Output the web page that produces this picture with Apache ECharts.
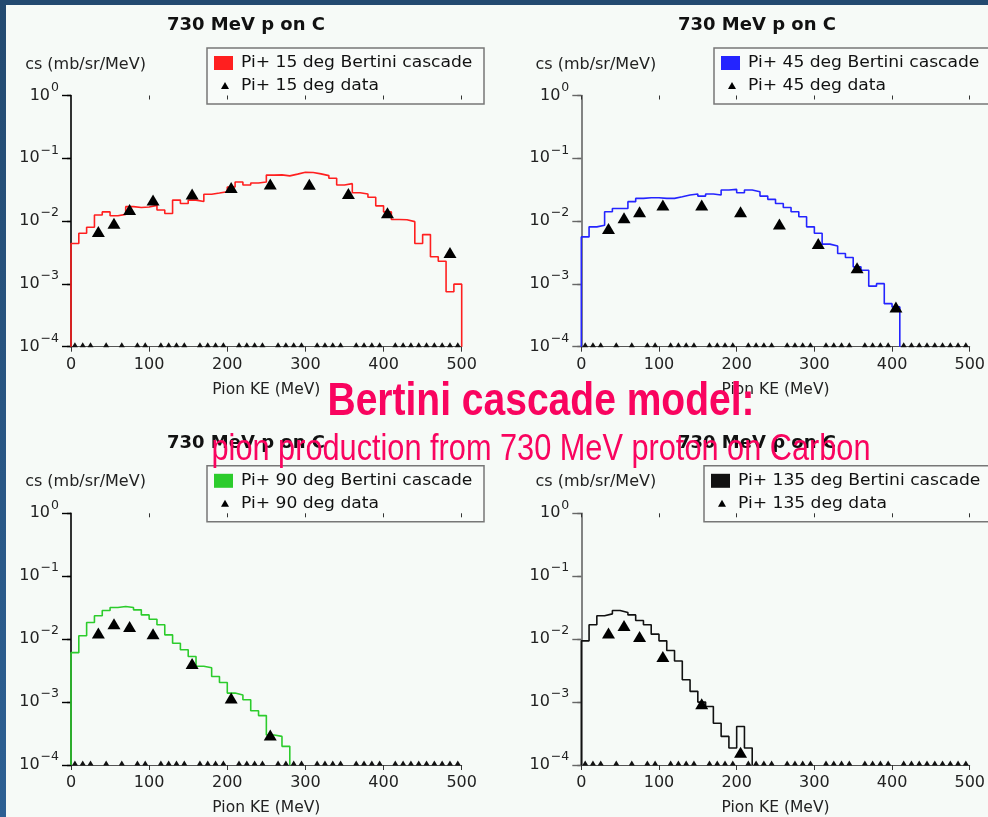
<!DOCTYPE html>
<html><head><meta charset="utf-8">
<script src="https://cdn.jsdelivr.net/npm/echarts@6/dist/echarts.min.js"></script>
<style>
html,body{margin:0;padding:0;background:#f6faf7;overflow:hidden;}
#c{position:absolute;left:0;top:0;width:988px;height:817px;}
#topbar{position:absolute;left:0;top:0;width:988px;height:5px;background:#234a70;}
#leftbar{position:absolute;left:0;top:0;width:6px;height:817px;background:linear-gradient(#234a70,#2d6094);}
</style></head><body>
<div id="c"></div><div id="topbar"></div><div id="leftbar"></div>
<script>
// ---------- data ----------
const BIN_WIDTH = 10;          // MeV per histogram bin
const Y_MIN = 1e-4, Y_MAX = 1;
const KE_MIN = 0, KE_MAX = 500, KE_STEP = 100;
const panelTitle = '730 MeV p on C';
const yAxisName = 'cs (mb/sr/MeV)';
const xAxisName = 'Pion KE (MeV)';
const angles = ['15', '45', '90', '135'];
const histColors = ['#ff1f1f', '#2424ff', '#2ccc2c', '#111111'];
const captionLines = ['Bertini cascade model:', 'pion production from 730 MeV proton on Carbon'];

// Bertini cascade histograms (10 MeV bins starting at 0)
const cascade15 = [0.0044,0.0064,0.0080,0.0125,0.0140,0.0122,0.0128,0.0170,0.0165,0.0168,
  0.0178,0.0150,0.0132,0.0216,0.0191,0.0216,0.0205,0.0268,0.0280,0.0294,
  0.0350,0.0420,0.0375,0.0405,0.0420,0.0540,0.0545,0.0525,0.0560,0.0600,
  0.0595,0.0565,0.0530,0.0480,0.0375,0.0395,0.0283,0.0270,0.0240,0.0175,
  0.0140,0.0106,0.0105,0.0098,0.0044,0.0061,0.0027,0.0023,0.00075,0.00099];
const cascade45 = [0.0056,0.0081,0.0086,0.0141,0.0159,0.0159,0.0204,0.0230,0.0236,0.0236,
  0.0230,0.0230,0.0244,0.0260,0.0270,0.0250,0.0270,0.0260,0.0313,0.0320,
  0.0283,0.0313,0.0294,0.0250,0.0222,0.0191,0.0165,0.0141,0.0117,0.0081,
  0.0064,0.0043,0.0040,0.00305,0.00263,0.00187,0.00165,0.00092,0.00101,0.000485,0.00043];
const cascade90 = [0.0061,0.0113,0.0184,0.0235,0.0285,0.0318,0.0330,0.0318,0.0292,0.0243,
  0.0207,0.0169,0.0117,0.0086,0.0068,0.0053,0.0037,0.0035,0.00255,0.00205,
  0.00139,0.0013,0.00109,0.00073,0.00061,0.0003,0.000285,0.000198];
const cascade135 = [0.0094,0.0169,0.0235,0.0252,0.0285,0.0265,0.0243,0.0198,0.0169,0.0120,
  0.0094,0.0066,0.0045,0.00226,0.00148,0.0010,0.00085,0.00046,0.000285,0.000186,0.00041,0.000186];

// measured data points
const data15KE = [35,55,75,105,155,205,255,305,355,405,485];
const data15 = [0.0068,0.0092,0.0153,0.0216,0.027,0.0344,0.0389,0.0385,0.0276,0.0136,0.00316];
const data45KE = [35,55,75,105,155,205,255,305,355,405];
const data45 = [0.0076,0.0113,0.0141,0.018,0.018,0.0141,0.009,0.0044,0.0018,0.00043];
const data90KE = [35,55,75,105,155,205,255];
const data90 = [0.0125,0.0175,0.0159,0.0122,0.0041,0.00116,0.0003];
const data135KE = [35,55,75,105,155,205];
const data135 = [0.0125,0.0165,0.011,0.0053,0.00094,0.00016];

// data bins with no measured value (drawn on the axis floor)
const emptyKE = [5,15,25,45,65,85,95,115,125,135,145,165,175,185,195,215,225,235,245,265,
  275,285,295,315,325,335,345,365,375,385,395,415,425,435,445,455,465,475,485,495];

const cascades = [cascade15, cascade45, cascade90, cascade135];
const dataKE = [data15KE, data45KE, data90KE, data135KE];
const dataVals = [data15, data45, data90, data135];

// ---------- layout ----------
const FONT = '"DejaVu Sans", sans-serif';
const CAPTION_FONT = '"Liberation Sans", Arial, sans-serif';
const panels = [
  {left: 71,    top: 95.5,  width: 390.7, height: 251.2, titleX: 246, legX: 207, legW: 277, axisColor: '#000'},
  {left: 581.3, top: 95.5,  width: 389.7, height: 251.2, titleX: 757, legX: 714, legW: 290, axisColor: '#666'},
  {left: 71,    top: 513.3, width: 390.7, height: 251.7, titleX: 246, legX: 207, legW: 277, axisColor: '#000'},
  {left: 581.3, top: 513.3, width: 389.7, height: 251.7, titleX: 757, legX: 704, legW: 300, axisColor: '#666'}
];

function histPoints(vals) {
  const pts = [[KE_MIN, Y_MIN]];
  vals.forEach((v, i) => pts.push([KE_MIN + i * BIN_WIDTH, v]));
  const end = KE_MIN + vals.length * BIN_WIDTH;
  pts.push([end, vals[vals.length - 1]]);
  pts.push([end, Y_MIN]);
  return pts;
}

const grid = [], xAxis = [], yAxis = [], series = [], title = [], graphic = [];

panels.forEach((p, i) => {
  grid.push({left: p.left, top: p.top, width: p.width, height: p.height});
  title.push({
    text: panelTitle, left: p.titleX, top: p.top - 79, textAlign: 'center', padding: 0,
    textStyle: {fontSize: 18, fontWeight: 'bold', fontFamily: FONT, color: '#111'}
  });
  // main x axis
  xAxis.push({
    type: 'value', gridIndex: i, min: KE_MIN, max: KE_MAX, interval: KE_STEP,
    axisLine: {show: true, lineStyle: {color: '#555', width: 1}},
    axisTick: {show: true, length: 5, lineStyle: {color: '#333'}},
    axisLabel: {margin: 10, fontSize: 16, color: '#222', fontFamily: FONT},
    splitLine: {show: false},
    name: xAxisName, nameLocation: 'middle', nameGap: 35,
    nameTextStyle: {fontSize: 15.5, color: '#222', fontFamily: FONT}
  });
  // inner tick copy
  xAxis.push({
    type: 'value', gridIndex: i, min: KE_MIN, max: KE_MAX, interval: KE_STEP,
    axisLine: {show: false}, axisLabel: {show: false}, splitLine: {show: false},
    axisTick: {show: true, inside: true, length: 4, lineStyle: {color: '#333'}}
  });
  yAxis.push({
    type: 'log', logBase: 10, gridIndex: i, min: Y_MIN, max: Y_MAX, splitNumber: 4,
    axisLine: {show: true, lineStyle: {color: p.axisColor, width: 1.6}},
    axisTick: {show: true, length: 4, lineStyle: {color: p.axisColor, width: 1.4}},
    splitLine: {show: false}, minorTick: {show: false},
    axisLabel: {
      margin: 12,
      formatter: v => {
        const e = Math.round(Math.log10(v));
        return '{b|10}{s|' + (e === 0 ? '0' : '\u2212' + (-e)) + '}';
      },
      rich: {
        b: {fontSize: 16, fontFamily: FONT, color: '#222'},
        s: {fontSize: 12.5, fontFamily: FONT, color: '#222', padding: [0, 0, 16, 1]}
      }
    },
    name: yAxisName, nameLocation: 'end', nameGap: 23,
    nameTextStyle: {fontSize: 16, color: '#222', fontFamily: FONT, align: 'center', padding: [0, 0, 0, 29]}
  });
  yAxis.push({
    type: 'log', logBase: 10, gridIndex: i, min: Y_MIN, max: Y_MAX, splitNumber: 4,
    axisLine: {show: false}, axisLabel: {show: false}, splitLine: {show: false},
    axisTick: {show: true, inside: true, length: 9, lineStyle: {color: p.axisColor, width: 1.4}}
  });

  const cascName = 'Pi+ ' + angles[i] + ' deg Bertini cascade';
  const dataName = 'Pi+ ' + angles[i] + ' deg data';
  series.push({
    name: cascName, type: 'line', step: 'end', xAxisIndex: 2 * i, yAxisIndex: 2 * i,
    data: histPoints(cascades[i]), symbol: 'none', z: 3,
    lineStyle: {color: histColors[i], width: 1.6}, animation: false
  });
  series.push({
    name: dataName, type: 'scatter', xAxisIndex: 2 * i, yAxisIndex: 2 * i,
    data: dataKE[i].map((k, j) => [k, dataVals[i][j]]),
    symbol: 'triangle', symbolSize: [13, 11], itemStyle: {color: '#000', opacity: 1}, z: 4, animation: false
  });
  series.push({
    name: dataName + ' (empty)', type: 'scatter', xAxisIndex: 2 * i, yAxisIndex: 2 * i,
    data: emptyKE.map(k => [k, Y_MIN]), clip: false,
    symbol: 'triangle', symbolSize: [6, 5], symbolOffset: [0, -2],
    itemStyle: {color: '#111', opacity: 1}, z: 4, animation: false, silent: true
  });

  // legend box
  const ly = p.top - 47.5;
  const lx = p.legX;
  graphic.push({
    type: 'group', z: 10, children: [
      {type: 'rect', shape: {x: lx, y: ly, width: p.legW, height: 56},
        style: {fill: '#f8fbf9', stroke: '#777', lineWidth: 1.5}},
      {type: 'rect', shape: {x: lx + 7, y: ly + 8, width: 19, height: 14},
        style: {fill: histColors[i]}},
      {type: 'text', x: lx + 34, y: ly + 15, scaleX: 1.07,
        style: {text: cascName, font: '16px ' + FONT, fill: '#111', verticalAlign: 'middle'}},
      {type: 'polygon', shape: {points: [[lx + 18, ly + 34], [lx + 22, ly + 41], [lx + 14, ly + 41]]},
        style: {fill: '#000'}},
      {type: 'text', x: lx + 34, y: ly + 38, scaleX: 1.07,
        style: {text: dataName, font: '16px ' + FONT, fill: '#111', verticalAlign: 'middle'}}
    ]
  });
});

// overlay caption
graphic.push({type: 'text', z: 20, x: 541, y: 402, scaleX: 0.83,
  style: {text: captionLines[0], font: 'bold 47px ' + CAPTION_FONT,
    fill: '#f9045f', align: 'center', verticalAlign: 'middle'}});
graphic.push({type: 'text', z: 20, x: 541, y: 450, scaleX: 0.83,
  style: {text: captionLines[1], font: '37px ' + CAPTION_FONT,
    fill: '#f9045f', align: 'center', verticalAlign: 'middle'}});

const chart = echarts.init(document.getElementById('c'), null, {renderer: 'canvas'});
chart.setOption({
  backgroundColor: 'transparent', animation: false,
  title, grid, xAxis, yAxis, series, graphic
});
</script>
</body></html>
